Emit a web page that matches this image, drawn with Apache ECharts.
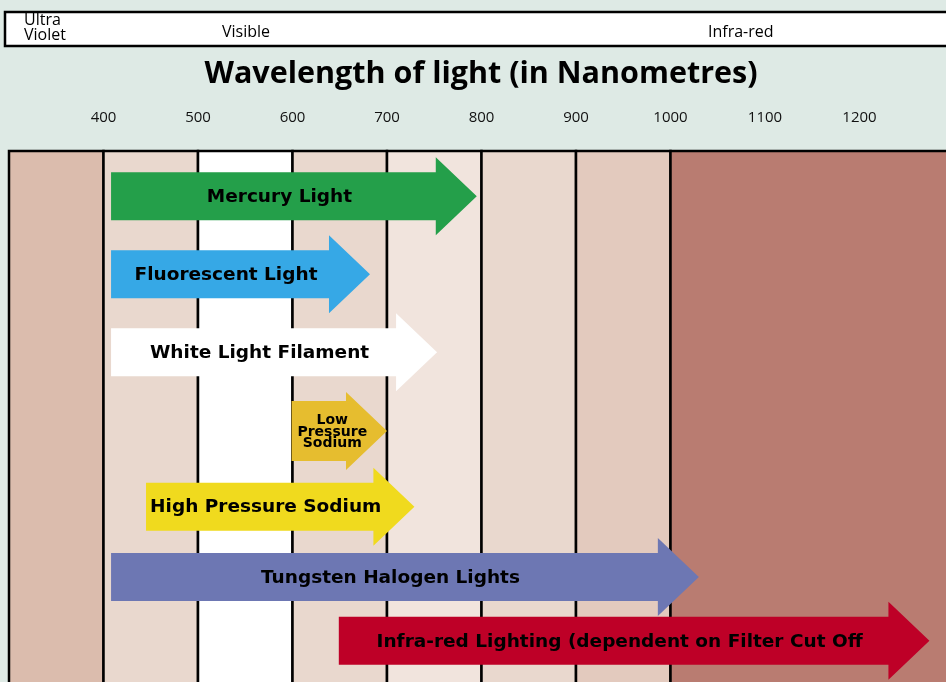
<!DOCTYPE html>
<html>
<head>
<meta charset="utf-8">
<title>Wavelength of light</title>
<script src="https://cdn.jsdelivr.net/npm/echarts@6/dist/echarts.min.js"></script>
<style>
  html, body { margin: 0; padding: 0; background: #deeae5; }
  #chart { width: 946px; height: 682px; }
</style>
</head>
<body>
<div id="chart"></div>
<script>
// wavelength bands (nm) and their shading
const bandEdges = [300, 400, 500, 600, 700, 800, 900, 1000, 1300];
const bandColors = ['#dbbcad', '#e9d8ce', '#ffffff', '#e9d8ce', '#f1e4dd', '#e9d8ce', '#e3cabe', '#b97c71'];

// light sources: where each arrow starts and where its tip ends (nm)
const lights = [
  'Mercury Light',
  'Fluorescent Light',
  'White Light Filament',
  'Low\nPressure\nSodium',
  'High Pressure Sodium',
  'Tungsten Halogen Lights',
  'Infra-red Lighting (dependent on Filter Cut Off'
];
const startNm = [408, 408, 408, 599, 445, 408, 649];
const endNm = [795, 682, 753, 700, 729, 1030, 1274];
// row position of each arrow (lanes from the top)
const lane = [0.58, 1.58, 2.58, 3.59, 4.56, 5.46, 6.28];
const arrowColors = ['#249f4a', '#36a8e6', '#ffffff', '#e6bd2f', '#f0da1e', '#6d77b3', '#be0027'];

const tickLabels = ['400', '500', '600', '700', '800', '900', '1000', '1100', '1200'];

const chart = echarts.init(document.getElementById('chart'));

const bandData = bandColors.map((c, i) => [bandEdges[i], bandEdges[i + 1], i]);
const arrowData = lights.map((name, i) => ({
  name: name,
  value: [startNm[i], endNm[i], lane[i]],
  itemStyle: { color: arrowColors[i] }
}));

const renderBand = (params, api) => {
  const a = api.coord([api.value(0), 0]);
  const b = api.coord([api.value(1), 0]);
  const cs = params.coordSys;
  return {
    type: 'rect',
    shape: { x: a[0], y: cs.y, width: b[0] - a[0], height: cs.height },
    style: { fill: bandColors[api.value(2)], stroke: '#000', lineWidth: 2.5 }
  };
};

const renderArrow = (params, api) => {
  const s = api.coord([api.value(0), api.value(2)]);
  const t = api.coord([api.value(1), api.value(2)]);
  const name = lights[params.dataIndex];
  const tall = name.indexOf('\n') >= 0;
  const body = tall ? 30 : 24;
  const head = 39;
  const headLen = 41;
  const cy = s[1];
  const hx = t[0] - headLen;
  return {
    type: 'group',
    children: [
      {
        type: 'polygon',
        shape: {
          points: [
            [s[0], cy - body], [hx, cy - body], [hx, cy - head], [t[0], cy],
            [hx, cy + head], [hx, cy + body], [s[0], cy + body]
          ]
        },
        style: { fill: api.visual('color') }
      },
      {
        type: 'text',
        style: {
          text: name,
          x: tall ? (s[0] + t[0]) / 2 - 7 : (s[0] + hx) / 2 + 6,
          y: cy + 1,
          align: 'center',
          verticalAlign: 'middle',
          fill: '#000',
          font: tall ? 'bold 14px "DejaVu Sans"' : 'bold 18.5px "DejaVu Sans"',
          lineHeight: 11.5
        }
      }
    ]
  };
};

chart.setOption({
  backgroundColor: '#deeae5',
  animation: false,
  grid: { left: 9, top: 151, width: 945, height: 546, outerBoundsMode: 'none' },
  xAxis: {
    type: 'value',
    position: 'top',
    min: 300,
    max: 1300,
    interval: 100,
    axisLine: { show: false },
    axisTick: { show: false },
    splitLine: { show: false },
    axisLabel: {
      margin: 26,
      color: '#111',
      fontSize: 15,
      fontFamily: 'Open Sans',
      formatter: (v) => (tickLabels.indexOf(String(v)) >= 0 ? String(v) : '')
    }
  },
  yAxis: {
    type: 'value',
    inverse: true,
    min: 0,
    max: 7,
    show: false
  },
  graphic: [
    {
      type: 'rect',
      shape: { x: 5, y: 12, width: 960, height: 34 },
      style: { fill: '#fff', stroke: '#000', lineWidth: 2.5 }
    },
    {
      type: 'text',
      style: { text: 'Ultra\nViolet', x: 24, y: 13, fill: '#000', font: '16px "Open Sans"', lineHeight: 15 }
    },
    {
      type: 'text',
      style: { text: 'Visible', x: 222, y: 32, verticalAlign: 'middle', fill: '#000', font: '16px "Open Sans"' }
    },
    {
      type: 'text',
      style: { text: 'Infra-red', x: 708, y: 32, verticalAlign: 'middle', fill: '#000', font: '16px "Open Sans"' }
    },
    {
      type: 'text',
      style: {
        text: 'Wavelength of light (in Nanometres)',
        x: 481, y: 74, align: 'center', verticalAlign: 'middle',
        fill: '#000', font: 'bold 30.5px "Open Sans"'
      }
    }
  ],
  series: [
    {
      type: 'custom',
      renderItem: renderBand,
      data: bandData,
      silent: true,
      clip: false
    },
    {
      type: 'custom',
      renderItem: renderArrow,
      data: arrowData,
      clip: false
    }
  ]
});

window.addEventListener('resize', () => {
  chart.resize();
});
</script>
</body>
</html>
